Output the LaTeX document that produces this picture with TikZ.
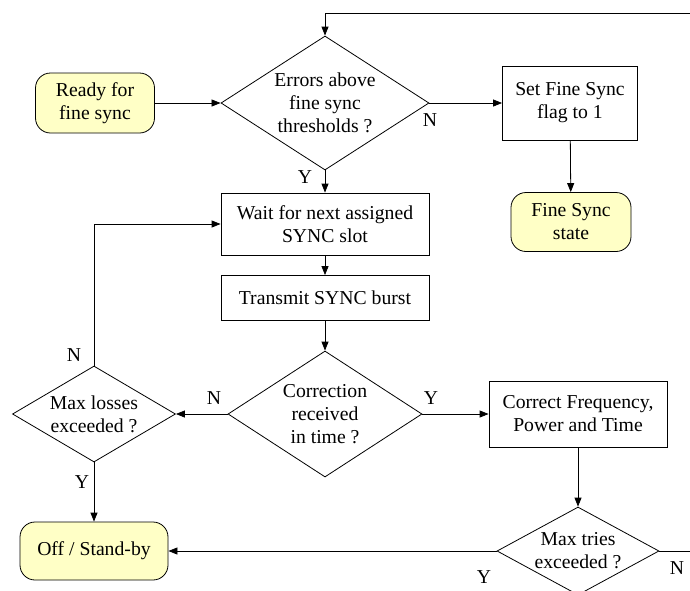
\documentclass[tikz,border=0pt]{standalone}
\usepackage{fontspec}
\setmainfont{LiberationSerif-Regular.ttf}
\usetikzlibrary{shapes.geometric,arrows.meta}
\definecolor{paleyellow}{HTML}{FFFFC6}
\tikzset{>={Triangle[length=9pt,width=7pt]}}
\tikzset{
  proc/.style={draw, align=center, inner sep=0pt},
  state/.style={draw, fill=paleyellow, rounded corners=15pt, align=center, inner sep=0pt},
  decision/.style={draw, diamond, align=center, inner sep=-10pt},
  yn/.style={inner sep=0pt}
}

\begin{document}
\begin{tikzpicture}[x=1pt, y=-1pt, line width=0.8pt, font=\fontsize{19.7}{23}\selectfont]
\useasboundingbox (0,0) rectangle (690,590);
\clip (0,0) rectangle (690,590);
\node[state, minimum width=119pt, minimum height=60pt] (ready) at (95,103) {Ready for\\fine sync};
\node[decision, minimum width=208pt, minimum height=134pt] (errors) at (325,103) {Errors above\\fine sync\\thresholds ?};
\node[proc, minimum width=135pt, minimum height=74pt] (setflag) at (570,103) {Set Fine Sync\\flag to 1};
\node[state, minimum width=120pt, minimum height=59pt] (finesync) at (571,222) {Fine Sync\\state};
\node[proc, minimum width=208pt, minimum height=62pt] (wait) at (325,224) {Wait for next assigned\\SYNC slot};
\node[proc, minimum width=208pt, minimum height=45pt] (transmit) at (325,298) {Transmit SYNC burst};
\node[decision, minimum width=194pt, minimum height=126pt] (correction) at (325,414) {Correction\\received\\in time ?};
\node[decision, minimum width=163pt, minimum height=96pt] (maxloss) at (94,414) {Max losses\\exceeded ?};
\node[proc, minimum width=178pt, minimum height=66pt] (correct) at (578,414) {Correct Frequency,\\Power and Time};
\node[decision, minimum width=162pt, minimum height=88pt] (maxtries) at (578,551) {Max tries\\exceeded ?};
\node[state, minimum width=148pt, minimum height=58pt] (off) at (94,551) {Off / Stand-by};
\coordinate (rightdown) at (710,551);
\coordinate (rightup) at (710,13);

\node[yn] (n1) at (430,120) {N};
\node[yn] (y1) at (305,177) {Y};
\node[yn] (n2) at (214,398) {N};
\node[yn] (y2) at (431,398) {Y};
\node[yn] (n3) at (74,355) {N};
\node[yn] (y3) at (82,482) {Y};
\node[yn] (y4) at (484,577) {Y};
\node[yn] (n4) at (677,568) {N};

\draw[->] (ready) -- (errors);
\draw[->] (errors) -- (setflag);
\draw[->] (setflag) -- (finesync);
\draw[->] (errors) -- (wait);
\draw[->] (wait) -- (transmit);
\draw[->] (transmit) -- (correction);
\draw[->] (correction) -- (maxloss);
\draw[->] (maxloss.north) |- (wait.west);
\draw[->] (maxloss) -- (off);
\draw[->] (correction) -- (correct);
\draw[->] (correct) -- (maxtries);
\draw[->] (maxtries) -- (off);
\draw[->] (maxtries.east) -- (rightdown) -- (rightup) -| (errors.north);
\end{tikzpicture}
\end{document}
